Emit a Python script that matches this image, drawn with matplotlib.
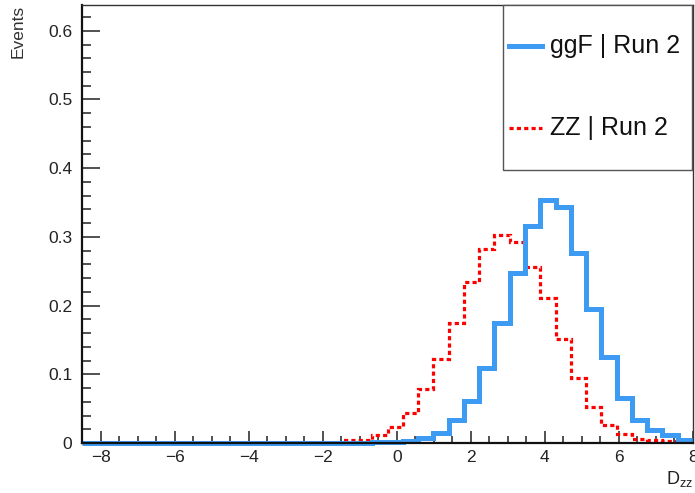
import numpy as np
import matplotlib
matplotlib.use("Agg")
import matplotlib.pyplot as plt
from matplotlib.lines import Line2D
from matplotlib.patches import Rectangle
from matplotlib.ticker import MultipleLocator, FixedLocator

plt.rcParams['font.family'] = ['Liberation Sans', 'DejaVu Sans']
plt.rcParams['mathtext.fontset'] = 'custom'
plt.rcParams['mathtext.rm'] = 'Liberation Sans'
plt.rcParams['mathtext.it'] = 'Liberation Sans:italic'

# ---- data ----
x_min, x_max, n_bins = -8.5, 8.0, 40
ggF_values = [0.0] * 19 + [
    0.001, 0.002, 0.003, 0.007, 0.014, 0.033, 0.061, 0.109, 0.174, 0.248,
    0.316, 0.353, 0.344, 0.277, 0.195, 0.125, 0.065, 0.034, 0.019, 0.011,
    0.005]
ZZ_values = [0.0] * 17 + [
    0.004, 0.005, 0.012, 0.024, 0.043, 0.078, 0.122, 0.174, 0.235, 0.282,
    0.303, 0.293, 0.256, 0.211, 0.151, 0.094, 0.053, 0.026, 0.013, 0.006,
    0.004, 0.003, 0.002]
series_labels = ["ggF | Run 2", "ZZ | Run 2"]
x_ticks = [-8, -6, -4, -2, 0, 2, 4, 6, 8]
y_ticks = [0, 0.1, 0.2, 0.3, 0.4, 0.5, 0.6]
y_max = 0.6375

edges = np.linspace(x_min, x_max, n_bins + 1)

W, H = 695, 493
fig = plt.figure(figsize=(W / 100, H / 100), dpi=100)
ax = fig.add_axes([82 / W, 1 - 443 / H, (693 - 82) / W, (443 - 5) / H])

blue = '#3d9bf3'
red = '#ff0000'

ax.stairs(ZZ_values, edges, color=red, linewidth=2.3,
          linestyle=(0, (1.3, 1.0)), baseline=None, zorder=2)
ax.stairs(ggF_values, edges, color=blue, linewidth=3.6, baseline=None,
          zorder=2.1, clip_on=False)

ax.set_xlim(x_min, x_max)
ax.set_ylim(0, y_max)

ax.xaxis.set_major_locator(FixedLocator(x_ticks))
ax.xaxis.set_minor_locator(MultipleLocator(0.5))
ax.yaxis.set_major_locator(FixedLocator(y_ticks))
ax.yaxis.set_minor_locator(MultipleLocator(0.02))
ax.set_xticklabels([f"{t:g}".replace('-', '\u2212') for t in x_ticks])
ax.set_yticklabels([f"{t:g}" for t in y_ticks])

ax.tick_params(axis='x', which='major', direction='in', length=9, width=1.2,
               pad=5, labelsize=12.5, colors='#333333', labelcolor='#222222')
ax.tick_params(axis='x', which='minor', direction='in', length=4.7, width=1.2,
               colors='#333333')
ax.tick_params(axis='y', which='major', direction='in', length=13, width=1.2,
               pad=7, labelsize=12.5, colors='#333333', labelcolor='#222222')
ax.tick_params(axis='y', which='minor', direction='in', length=6.5, width=1.2,
               colors='#333333')

for side in ['left', 'bottom']:
    ax.spines[side].set_linewidth(1.6)
    ax.spines[side].set_color('#111111')
for side in ['top', 'right']:
    ax.spines[side].set_linewidth(1.0)
    ax.spines[side].set_color('#333333')
for s in ax.spines.values():
    s.set_zorder(3)

ax.set_ylabel('Events', loc='top', fontsize=12.5, color='#333333')
ax.yaxis.set_label_coords(-0.093, 1.0)
ax.set_xlabel(r'$\mathregular{D_{zz}}$', loc='right', fontsize=13,
              color='#222222')
ax.xaxis.set_label_coords(1.0, -0.06)

# ---- legend box (ROOT style) ----
fig.patches.append(Rectangle((503 / W, 1 - 170 / H), (692 - 503) / W,
                             (170 - 5) / H, transform=fig.transFigure,
                             facecolor='white', edgecolor='#555555',
                             linewidth=1.0, zorder=5))
leg_specs = [
    (series_labels[0], 46, dict(color=blue, linewidth=3.6)),
    (series_labels[1], 128, dict(color=red, linewidth=2.3,
                                linestyle=(0, (1.3, 1.0)))),
]
for lab, yp, st in leg_specs:
    fig.lines.append(Line2D([509 / W, 542 / W], [1 - yp / H, 1 - yp / H],
                            transform=fig.transFigure, zorder=6, **st))
    fig.text(550 / W, 1 - yp / H, lab, fontsize=18, va='center', ha='left',
             color='#111111', zorder=6)

fig.savefig('out.png', dpi=100)
